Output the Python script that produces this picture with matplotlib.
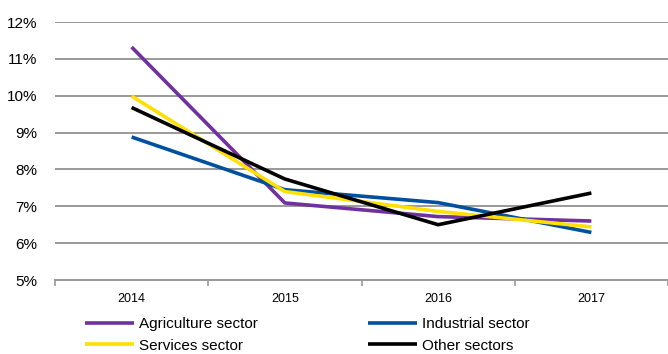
import matplotlib
matplotlib.use("Agg")
import matplotlib.pyplot as plt
from matplotlib.ticker import FixedLocator

plt.rcParams['font.family'] = ['Liberation Sans', 'DejaVu Sans']

years = ["2014", "2015", "2016", "2017"]
agriculture = [11.32, 7.09, 6.72, 6.60]
industrial = [8.88, 7.45, 7.10, 6.29]
services = [9.99, 7.40, 6.86, 6.44]
other = [9.68, 7.74, 6.50, 7.36]
yticks = [5, 6, 7, 8, 9, 10, 11, 12]

fig = plt.figure(figsize=(6.68, 3.54), dpi=100)
ax = fig.add_axes([55/668, 1-280/354, 613/668, 258/354])

x = list(range(len(years)))
lw = 2.6
la, = ax.plot(x, agriculture, color="#7030A0", lw=lw, label="Agriculture sector", solid_capstyle='butt')
li, = ax.plot(x, industrial, color="#0050A0", lw=lw, label="Industrial sector", solid_capstyle='butt')
ls, = ax.plot(x, services, color="#FFE000", lw=lw, label="Services sector", solid_capstyle='butt')
lo, = ax.plot(x, other, color="#000000", lw=lw, label="Other sectors", solid_capstyle='butt')

ax.set_xlim(-0.5, 3.5)
ax.set_ylim(5, 12)
ax.set_yticks(yticks)
ax.set_yticklabels([f"{v}%" for v in yticks], fontsize=11)
ax.set_xticks(x)
ax.set_xticklabels(years, fontsize=9)
ax.tick_params(axis='x', which='major', length=0, pad=9)
ax.tick_params(axis='y', length=0, pad=13)
ax.xaxis.set_minor_locator(FixedLocator([-0.5, 0.5, 1.5, 2.5, 3.5]))
ax.tick_params(axis='x', which='minor', length=4, color="#999999", width=1.2)
ax.grid(axis='y', color="#999999", lw=1.4, zorder=0)
ax.set_axisbelow(True)
for s in ['left', 'right', 'top']:
    ax.spines[s].set_visible(False)
ax.spines['bottom'].set_color("#999999")
ax.spines['bottom'].set_linewidth(1.4)

fig.legend([la, ls, li, lo], [la.get_label(), ls.get_label(), li.get_label(), lo.get_label()],
           ncol=2, loc='lower left', bbox_to_anchor=(79/668, -0.014), frameon=False,
           fontsize=11, handlelength=3.2, handletextpad=0.35, columnspacing=7.2,
           labelspacing=0.5, borderaxespad=0.0)

fig.savefig("out.png", dpi=100)
